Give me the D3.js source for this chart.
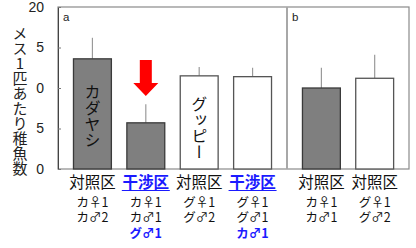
<!DOCTYPE html>
<html><head><meta charset="utf-8">
<script src="https://cdn.jsdelivr.net/npm/d3@7"></script>
<style>
html,body{margin:0;padding:0;background:#fff;}
svg{display:block;}
</style></head>
<body>
<svg id="c" width="416" height="248"></svg>
<script>
// ---- data ----
const panelA = ["a1","a2","a3","a4"];
const panelB = ["b1","b2"];
const groupNames = ["対照区","干渉区","対照区","干渉区","対照区","対照区"];
const means = [13.6, 5.7, 11.5, 11.4, 10.0, 11.2];
const errs  = [2.6, 2.3, 1.1, 1.1, 2.5, 2.9];
const darkBar = [true, true, false, false, true, false];
const line2 = ["カ♀1","カ♀1","グ♀1","グ♀1","カ♀1","グ♀1"];
const line3 = ["カ♂2","カ♂1","グ♂2","グ♂1","カ♂1","グ♂2"];
const line4 = ["","グ♂1","","カ♂1","",""];
const tickValues = [0,5,10,15,20];
const tickLabels = ["0","5","0","5","20"];
const yLabel = "メス1匹あたり稚魚数";

// ---- layout ----
const svg = d3.select("#c");
const L = 58, R = 409, T = 7, B = 169, MID = 287;
const jp = "'Noto Sans CJK JP','Noto Sans',sans-serif";

const y = d3.scaleLinear().domain([0,20]).range([B,T]);
const xa = d3.scaleBand().domain(panelA).range([L,MID]).paddingInner(0.29).paddingOuter(0.29);
const xb = d3.scaleBand().domain(panelB).range([MID,R]).paddingInner(0.29).paddingOuter(0.29);
const ids = panelA.concat(panelB);
const xOf = id => (id[0]==="a" ? xa(id) : xb(id));
const bw = xa.bandwidth();

// frame
svg.append("rect").attr("x",L).attr("y",T).attr("width",R-L).attr("height",B-T)
  .attr("fill","none").attr("stroke","#8a8a8a").attr("stroke-width",1.2);
svg.append("line").attr("x1",MID).attr("x2",MID).attr("y1",T).attr("y2",B)
  .attr("stroke","#a8a8a8").attr("stroke-width",2);

// axis
const ax = svg.append("g").attr("transform",`translate(${L},0)`)
  .call(d3.axisLeft(y).tickValues(tickValues).tickSizeInner(-3).tickSizeOuter(0).tickPadding(14)
        .tickFormat((d,i)=>tickLabels[i]));
ax.select(".domain").attr("stroke","#444");
ax.selectAll(".tick line").attr("stroke","#777");
ax.selectAll(".tick text").attr("font-family","'Liberation Sans',Arial,sans-serif")
  .attr("font-size",14).attr("fill","#222");

// y label (single vertical text)
svg.append("text").attr("x",20).attr("y",26)
  .attr("font-family",jp).attr("font-size",15).attr("fill","#222")
  .style("writing-mode","vertical-rl").style("text-orientation","upright")
  .text(yLabel);

// error bars
ids.forEach((id,i)=>{
  svg.append("line").attr("x1",xOf(id)+bw/2).attr("x2",xOf(id)+bw/2)
    .attr("y1",y(means[i])).attr("y2",y(means[i]+errs[i]))
    .attr("stroke","#9a9a9a").attr("stroke-width",1.2);
});
// bars
ids.forEach((id,i)=>{
  svg.append("rect").attr("x",xOf(id)).attr("y",y(means[i]))
    .attr("width",bw).attr("height",B-y(means[i]))
    .attr("fill",darkBar[i]?"#7f7f7f":"#ffffff")
    .attr("stroke",darkBar[i]?"#3a3a3a":"#555").attr("stroke-width",1.3);
});

// species labels inside bars
[["カダヤシ",0,84],["グッピー",2,96]].forEach(([t,i,yy])=>{
  svg.append("text").attr("x",xOf(ids[i])+bw/2).attr("y",yy)
    .attr("font-family",jp).attr("font-size",16).attr("fill","#111")
    .style("writing-mode","vertical-rl").text(t);
});

// panel letters
svg.append("text").attr("x",L+5).attr("y",21).attr("font-family","'Liberation Sans',Arial,sans-serif")
  .attr("font-size",11.5).attr("fill","#222").text("a");
svg.append("text").attr("x",MID+5).attr("y",21).attr("font-family","'Liberation Sans',Arial,sans-serif")
  .attr("font-size",11.5).attr("fill","#222").text("b");

// red arrow over bar 2
const ac = xOf(ids[1])+bw/2;
const at = 60, hb = 83, tip = 96;
svg.append("path")
  .attr("d",`M${ac-6},${at}H${ac+6}V${hb}H${ac+12.5}L${ac},${tip}L${ac-12.5},${hb}H${ac-6}Z`)
  .attr("fill","#ff0000");

// x labels (one text per column, lines as tspans)
const blue = "#1a1aff";
ids.forEach((id,i)=>{
  const cx = xOf(id)+bw/2;
  const isI = groupNames[i]==="干渉区";
  const t = svg.append("text").attr("font-family",jp).attr("text-anchor","middle").attr("fill","#111");
  t.append("tspan").attr("x",cx).attr("y",188).attr("font-size",15.5)
    .attr("fill",isI?blue:"#111").attr("font-weight",isI?"bold":"normal").text(groupNames[i]);
  t.append("tspan").attr("x",cx).attr("y",207).attr("font-size",12.5).text(line2[i]);
  t.append("tspan").attr("x",cx).attr("y",222).attr("font-size",12.5).text(line3[i]);
  if(line4[i]) t.append("tspan").attr("x",cx).attr("y",238).attr("font-size",12.5)
    .attr("font-weight","bold").attr("fill",blue).text(line4[i]);
  if(isI){
    svg.append("line").attr("x1",cx-24).attr("x2",cx+24).attr("y1",190.5).attr("y2",190.5)
      .attr("stroke",blue).attr("stroke-width",1.2);
  }
});
</script>
</body></html>
